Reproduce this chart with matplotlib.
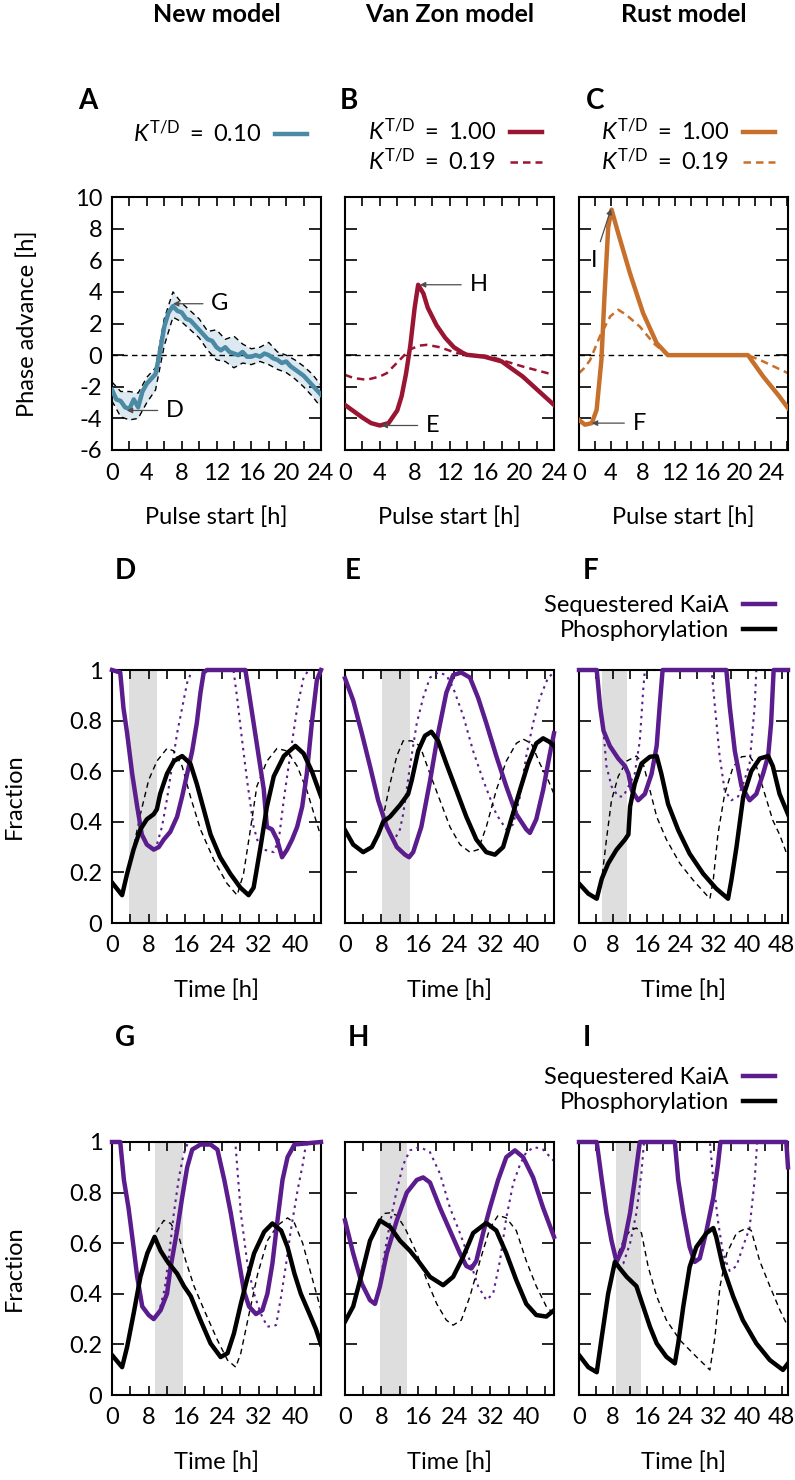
import matplotlib.pyplot as plt

# ---------------- data: phase response curves ----------------
A_x = [0, 0.5, 1, 1.5, 2, 2.5, 3, 3.5, 4, 4.5, 5, 5.5, 6, 6.5, 7, 7.5, 8, 8.5, 9, 9.5,
       10, 10.5, 11, 11.5, 12, 12.5, 13, 13.5, 14, 14.5, 15, 15.5, 16, 16.5, 17, 17.5,
       18, 18.5, 19, 19.5, 20, 20.5, 21, 21.5, 22, 22.5, 23, 23.5, 24]
A_main = [-2.2, -2.8, -2.9, -3.3, -3.4, -2.8, -3.3, -2.3, -1.8, -1.5, -1.2, 0.2, 1.8, 2.7,
          3.1, 2.8, 2.7, 2.3, 2.2, 1.9, 1.6, 1.3, 1.0, 0.9, 0.5, 0.3, 0.5, 0.2, 0.1, 0.0,
          0.2, -0.1, -0.1, 0.0, -0.1, 0.1, 0.0, -0.2, -0.3, -0.5, -0.4, -0.7, -0.9, -1.1,
          -1.3, -1.6, -1.9, -2.2, -2.5]
A_band_x = list(range(0, 25))
A_hi = [-1.7, -2.3, -2.3, -2.4, -1.4, -0.8, 2.3, 4.0, 3.3, 2.8, 2.3, 1.5, 1.6, 1.0, 1.2,
        0.7, 0.4, 0.5, 0.8, 0.2, 0.0, -0.3, -0.7, -1.2, -1.9]
A_lo = [-2.9, -3.9, -4.1, -4.0, -3.0, -2.2, 0.6, 2.4, 2.1, 1.6, 1.1, 0.3, -0.3, -0.4, -0.8,
        -0.5, -0.6, -0.4, -0.6, -0.9, -1.1, -1.5, -2.0, -2.6, -3.3]

B_x = [0, 1, 2, 3, 4, 5, 6, 6.5, 7, 7.5, 8, 8.4, 9, 9.5, 10.5, 11.5, 12.5, 13.5, 14, 16,
       18, 19, 20.4, 22.3, 24]
B_solid = [-3.15, -3.55, -3.95, -4.3, -4.45, -4.3, -3.5, -2.6, -1.2, 0.6, 3.0, 4.45, 3.9,
           3.0, 1.9, 1.1, 0.5, 0.15, 0.02, -0.1, -0.4, -0.8, -1.35, -2.3, -3.15]
B_dx = [0, 1, 2.5, 4, 4.8, 6.3, 7.4, 8.5, 9.4, 10.9, 12.8, 14.3, 16.6, 18.5, 20.4, 22.3, 24]
B_dash = [-1.25, -1.45, -1.56, -1.35, -1.14, -0.3, 0.34, 0.6, 0.65, 0.5, 0.13, 0.02, -0.08,
          -0.4, -0.72, -1.0, -1.25]

C_x = [0, 0.75, 1.6, 2.2, 2.8, 3.2, 3.65, 4.07, 4.9, 6.35, 8.0, 9.7, 11.1, 21.1, 23.0, 25.0, 26.1]
C_solid = [-4.1, -4.4, -4.3, -3.46, -0.3, 3.9, 8.1, 9.2, 7.7, 5.2, 2.66, 0.76, 0.0, 0.0,
           -1.35, -2.6, -3.35]
C_dx = [0, 0.7, 1.4, 2.6, 3.9, 4.9, 5.9, 7.6, 9.3, 10.9, 21.1, 23.0, 26.1]
C_dash = [-1.14, -0.8, -0.3, 1.18, 2.45, 2.87, 2.55, 1.8, 0.76, 0.06, 0.0, -0.4, -1.14]

# ---------------- data: time courses ----------------
# D (new model, early pulse)
D_kaia_t = [0, 1.8, 2.5, 3.3, 4.4, 5.5, 6.5, 7.6, 9.1, 10.2, 11.3, 12.7, 14.2, 15.3, 16.4,
            17.5, 18.5, 19.3, 20.0, 20.7, 29.1, 29.8, 30.9, 32.0, 33.1, 33.8, 34.9, 36.0,
            37.1, 38.2, 39.3, 40.4, 41.5, 42.5, 43.6, 44.7, 45.6]
D_kaia = [1.0, 0.99, 0.85, 0.75, 0.59, 0.46, 0.35, 0.31, 0.29, 0.30, 0.33, 0.36, 0.42, 0.50,
          0.59, 0.68, 0.79, 0.91, 0.99, 1.0, 1.0, 0.92, 0.79, 0.66, 0.53, 0.38, 0.37, 0.33,
          0.26, 0.29, 0.33, 0.38, 0.46, 0.59, 0.79, 0.96, 1.0]
D_kaia0_t = [0, 1.8, 2.5, 3.3, 4.4, 5.5, 6.5, 7.6, 8.8, 9.8, 10.9, 12.0, 13.1, 14.2, 15.3,
             16.4, 17.5, 26.5, 27.3, 28.4, 29.5, 30.9, 32.0, 33.1, 35.3, 36.4, 37.5, 39.0,
             40.4, 41.8, 42.9, 45.6]
D_kaia0 = [1.0, 0.99, 0.85, 0.75, 0.59, 0.46, 0.35, 0.31, 0.29, 0.31, 0.38, 0.49, 0.62, 0.75,
           0.85, 0.95, 1.0, 1.0, 0.89, 0.72, 0.56, 0.38, 0.31, 0.29, 0.28, 0.33, 0.49, 0.68,
           0.85, 0.97, 1.0, 1.0]
D_phos_t = [0, 2.2, 3.3, 4.7, 6.2, 7.6, 9.1, 9.8, 10.5, 12.0, 13.5, 15.3, 17.1, 18.5, 20.0,
            21.5, 23.6, 25.8, 28.0, 29.8, 30.9, 32.4, 33.8, 35.3, 37.5, 40.0, 41.8, 43.6, 45.6]
D_phos = [0.16, 0.11, 0.195, 0.29, 0.37, 0.41, 0.43, 0.45, 0.51, 0.59, 0.64, 0.66, 0.63, 0.55,
          0.45, 0.35, 0.26, 0.195, 0.14, 0.11, 0.14, 0.30, 0.46, 0.58, 0.66, 0.70, 0.67, 0.60,
          0.50]
D_phos0_t = [0, 2.2, 3.3, 4.7, 6.2, 8.0, 9.8, 12.0, 13.5, 15.3, 17.1, 19.3, 22.2, 25.1, 27.3,
             28.7, 30.2, 31.6, 33.8, 36.0, 38.2, 40.4, 42.5, 45.6]
D_phos0 = [0.16, 0.11, 0.195, 0.30, 0.43, 0.565, 0.64, 0.69, 0.68, 0.62, 0.50, 0.37, 0.25,
           0.156, 0.11, 0.195, 0.37, 0.54, 0.64, 0.69, 0.68, 0.62, 0.525, 0.34]

# E (Van Zon model)
E_kaia_t = [0, 1.8, 3.7, 5.5, 7.3, 9.2, 11.4, 13.2, 14.1, 15.0, 16.8, 18.7, 20.5, 22.3, 23.8,
            25.6, 27.5, 29.3, 31.1, 33.3, 35.5, 37.7, 39.9, 40.7, 42.1, 43.6, 45.0, 46.0]
E_kaia = [0.967, 0.88, 0.75, 0.62, 0.485, 0.38, 0.30, 0.27, 0.26, 0.28, 0.38, 0.56, 0.75,
          0.91, 0.98, 0.99, 0.97, 0.89, 0.79, 0.66, 0.54, 0.43, 0.37, 0.356, 0.41, 0.525,
          0.66, 0.75]
E_kaia0_t = [0, 1.8, 3.7, 5.5, 7.3, 9.2, 10.3, 11.2, 12.1, 12.8, 14.3, 15.8, 17.2, 18.7, 20.5,
             22.3, 23.8, 26.0, 28.2, 30.4, 33.3, 35.5, 37.0, 38.5, 39.9, 41.4, 42.9, 44.7, 46.0]
E_kaia0 = [0.967, 0.88, 0.75, 0.62, 0.485, 0.38, 0.34, 0.34, 0.37, 0.43, 0.62, 0.79, 0.89,
           0.97, 0.99, 0.98, 0.93, 0.82, 0.68, 0.565, 0.43, 0.37, 0.39, 0.50, 0.66, 0.79,
           0.89, 0.97, 0.99]
E_phos_t = [0, 1.8, 4.0, 5.9, 7.3, 8.4, 9.9, 12.1, 13.9, 14.7, 16.1, 17.6, 19.0, 20.5, 22.3,
            24.5, 26.7, 28.9, 31.1, 33.0, 34.8, 36.6, 38.5, 40.3, 42.1, 43.6, 45.0, 46.0]
E_phos = [0.367, 0.31, 0.28, 0.30, 0.35, 0.40, 0.42, 0.466, 0.51, 0.565, 0.68, 0.74, 0.756,
          0.72, 0.63, 0.525, 0.42, 0.33, 0.28, 0.27, 0.30, 0.41, 0.525, 0.63, 0.71, 0.73,
          0.716, 0.70]
E_phos0_t = [0, 1.8, 4.0, 5.9, 7.3, 8.4, 9.9, 11.4, 12.8, 14.7, 16.5, 18.7, 20.9, 23.1, 25.3,
             27.5, 29.3, 31.1, 33.3, 35.5, 37.7, 39.2, 41.0, 42.9, 44.7, 46.0]
E_phos0 = [0.367, 0.31, 0.28, 0.30, 0.35, 0.42, 0.55, 0.66, 0.72, 0.72, 0.70, 0.59, 0.485,
           0.38, 0.31, 0.28, 0.29, 0.38, 0.525, 0.64, 0.71, 0.727, 0.71, 0.63, 0.565, 0.51]

# F (Rust model)
F_kaia_t = [0, 4.2, 5.0, 5.8, 7.3, 9.3, 10.9, 11.7, 12.5, 14.0, 15.6, 17.2, 18.4, 19.1, 19.8,
            34.9, 35.7, 36.9, 38.5, 40.4, 42.0, 43.6, 44.8, 45.5, 46.1, 49.5]
F_kaia = [1.0, 1.0, 0.855, 0.76, 0.70, 0.65, 0.62, 0.59, 0.525, 0.485, 0.51, 0.59, 0.70,
          0.855, 1.0, 1.0, 0.855, 0.68, 0.54, 0.485, 0.51, 0.59, 0.66, 0.79, 1.0, 1.0]
F_kaia0_t = [0, 4.2, 5.0, 5.8, 6.5, 7.7, 9.3, 10.5, 11.7, 13.2, 14.4, 15.2, 15.6, 31.4, 32.2,
             33.3, 34.5, 36.1, 37.7, 39.2, 40.4, 41.6, 42.0, 49.5]
F_kaia0 = [1.0, 1.0, 0.855, 0.76, 0.62, 0.54, 0.50, 0.50, 0.54, 0.59, 0.72, 0.92, 1.0, 1.0,
           0.855, 0.66, 0.525, 0.485, 0.50, 0.565, 0.63, 0.855, 1.0, 1.0]
F_phos_t = [0, 2.2, 4.2, 5.4, 6.9, 8.9, 10.9, 11.7, 12.1, 13.2, 14.8, 16.8, 18.4, 19.5, 21.1,
            23.5, 26.2, 29.4, 32.5, 35.3, 36.1, 37.3, 38.9, 40.8, 42.8, 44.8, 45.9, 47.5, 49.5]
F_phos = [0.156, 0.116, 0.096, 0.175, 0.235, 0.29, 0.33, 0.35, 0.46, 0.55, 0.63, 0.657, 0.66,
          0.59, 0.47, 0.367, 0.274, 0.195, 0.136, 0.096, 0.17, 0.30, 0.50, 0.60, 0.65, 0.66,
          0.62, 0.51, 0.43]
F_phos0_t = [0, 2.2, 4.2, 5.4, 6.5, 7.7, 9.3, 11.3, 13.6, 15.2, 16.8, 18.4, 20.7, 23.9, 27.0,
             31.0, 31.8, 32.9, 34.5, 36.5, 38.5, 40.4, 42.0, 44.0, 45.9, 47.5, 49.5]
F_phos0 = [0.156, 0.116, 0.096, 0.175, 0.33, 0.485, 0.58, 0.64, 0.66, 0.63, 0.525, 0.42, 0.33,
           0.235, 0.17, 0.096, 0.17, 0.35, 0.51, 0.617, 0.657, 0.66, 0.62, 0.51, 0.406, 0.35,
           0.26]

# G (new model, late pulse)
G_kaia_t = [0, 1.8, 2.6, 3.6, 4.7, 5.5, 6.6, 8.0, 9.1, 10.6, 12.0, 12.8, 14.2, 15.3, 16.4, 17.5,
            19.3, 21.5, 23.0, 24.5, 25.9, 27.4, 28.8, 29.9, 31.4, 32.8, 33.9, 35.0, 36.1, 37.2,
            38.3, 39.8, 45.6]
G_kaia = [1.0, 1.0, 0.85, 0.74, 0.585, 0.467, 0.35, 0.316, 0.30, 0.335, 0.40, 0.507, 0.65,
          0.78, 0.90, 0.97, 0.99, 0.99, 0.97, 0.85, 0.72, 0.56, 0.41, 0.35, 0.32, 0.335, 0.40,
          0.52, 0.69, 0.85, 0.94, 0.99, 1.0]
G_kaia0_t = [0, 1.8, 2.6, 3.6, 4.7, 5.5, 6.6, 8.0, 9.1, 10.3, 11.5, 12.5, 13.5, 14.6, 15.6,
             16.6, 26.9, 28.1, 29.6, 31.0, 32.5, 33.9, 35.8, 36.9, 38.0, 39.0, 40.5, 41.6, 42.3,
             45.6]
G_kaia0 = [1.0, 1.0, 0.85, 0.74, 0.585, 0.467, 0.35, 0.316, 0.30, 0.33, 0.42, 0.56, 0.72,
           0.86, 0.95, 1.0, 1.0, 0.72, 0.51, 0.40, 0.32, 0.27, 0.276, 0.39, 0.52, 0.65, 0.81,
           0.91, 0.99, 1.0]
G_phos_t = [0, 2.2, 3.3, 4.7, 6.2, 7.7, 9.3, 10.6, 12.0, 14.2, 15.7, 17.2, 19.3, 21.5, 23.7,
            25.2, 26.6, 28.1, 29.6, 31.0, 33.2, 35.0, 36.9, 38.3, 39.8, 41.2, 43.1, 44.5, 45.6]
G_phos = [0.158, 0.11, 0.19, 0.32, 0.467, 0.56, 0.625, 0.57, 0.53, 0.48, 0.43, 0.39, 0.296,
          0.204, 0.15, 0.165, 0.243, 0.36, 0.467, 0.56, 0.645, 0.678, 0.65, 0.585, 0.48, 0.40,
          0.32, 0.26, 0.2]
G_phos0_t = [0, 2.2, 3.3, 4.7, 6.2, 7.7, 9.3, 9.9, 11.3, 12.8, 14.6, 16.1, 17.9, 20.0, 23.0,
             25.2, 27.0, 28.1, 29.9, 31.8, 33.9, 36.1, 38.3, 39.8, 41.6, 43.4, 45.6]
G_phos0 = [0.158, 0.11, 0.19, 0.32, 0.467, 0.56, 0.625, 0.65, 0.69, 0.678, 0.625, 0.53, 0.43,
           0.34, 0.217, 0.138, 0.11, 0.165, 0.32, 0.48, 0.61, 0.67, 0.70, 0.68, 0.60, 0.48,
           0.335]

# H (Van Zon model)
H_kaia_t = [0, 1.8, 3.7, 5.5, 6.6, 7.7, 9.2, 11.4, 13.6, 15.8, 17.2, 18.7, 20.9, 23.1, 25.3,
            26.7, 27.8, 28.9, 30.4, 31.9, 33.7, 35.5, 37.4, 39.2, 41.4, 43.6, 46.0]
H_kaia = [0.69, 0.56, 0.44, 0.375, 0.36, 0.43, 0.56, 0.69, 0.80, 0.85, 0.86, 0.84, 0.74, 0.65,
          0.56, 0.51, 0.50, 0.53, 0.64, 0.74, 0.85, 0.94, 0.967, 0.94, 0.86, 0.74, 0.625]
H_kaia0_t = [0, 1.8, 3.7, 5.5, 6.6, 7.7, 8.6, 9.9, 11.4, 12.8, 14.3, 16.5, 18.7, 20.9, 23.1,
             25.3, 27.5, 29.3, 31.1, 32.6, 34.1, 35.5, 37.0, 38.5, 39.9, 41.7, 43.6, 46.0]
H_kaia0 = [0.69, 0.56, 0.44, 0.375, 0.36, 0.43, 0.55, 0.68, 0.81, 0.91, 0.967, 0.98, 0.96,
           0.875, 0.74, 0.64, 0.53, 0.43, 0.375, 0.40, 0.53, 0.70, 0.835, 0.91, 0.96, 0.98,
           0.97, 0.925]
H_phos_t = [0, 1.8, 3.7, 5.5, 7.7, 9.9, 12.1, 14.3, 16.1, 18.7, 21.6, 23.8, 26.0, 28.2, 31.1,
            33.3, 35.5, 37.7, 39.9, 42.1, 44.3, 46.0]
H_phos = [0.29, 0.35, 0.48, 0.61, 0.69, 0.665, 0.61, 0.57, 0.53, 0.467, 0.434, 0.467, 0.546,
          0.64, 0.68, 0.65, 0.56, 0.454, 0.36, 0.316, 0.31, 0.335]
H_phos0_t = [0, 1.8, 3.7, 5.5, 7.7, 8.4, 9.9, 11.4, 13.2, 15.8, 18.0, 20.2, 22.3, 23.8, 25.6,
             27.5, 29.7, 31.9, 33.7, 35.5, 37.7, 39.9, 42.1, 44.3, 46.0]
H_phos0 = [0.29, 0.35, 0.48, 0.61, 0.69, 0.717, 0.72, 0.71, 0.66, 0.56, 0.454, 0.36, 0.296,
           0.276, 0.296, 0.39, 0.53, 0.66, 0.71, 0.70, 0.65, 0.53, 0.43, 0.35, 0.32]

# I (Rust model)
I_kaia_t = [0, 4.2, 5.4, 6.5, 7.7, 8.9, 10.5, 12.1, 13.2, 14.4, 22.7, 23.5, 24.7, 26.2, 27.4,
            28.6, 30.2, 31.8, 32.9, 33.5, 49.1, 49.5]
I_kaia = [1.0, 1.0, 0.85, 0.72, 0.61, 0.526, 0.585, 0.72, 0.85, 1.0, 1.0, 0.85, 0.72, 0.585,
          0.526, 0.54, 0.65, 0.78, 0.91, 1.0, 1.0, 0.9]
I_kaia0_t = [0, 4.2, 5.4, 6.5, 7.7, 8.9, 9.5, 10.5, 12.1, 13.6, 14.8, 15.4, 31.0, 31.8, 32.9,
             34.1, 35.7, 37.3, 38.8, 40.4, 41.6, 42.2, 49.5]
I_kaia0 = [1.0, 1.0, 0.85, 0.72, 0.61, 0.526, 0.51, 0.52, 0.60, 0.72, 0.88, 1.0, 1.0, 0.85,
           0.69, 0.56, 0.49, 0.51, 0.585, 0.66, 0.85, 1.0, 1.0]
I_phos_t = [0, 2.2, 4.2, 5.4, 6.9, 8.5, 9.7, 11.3, 13.6, 15.2, 16.8, 18.4, 20.7, 22.7, 23.5,
            24.7, 26.2, 27.8, 30.2, 31.8, 32.5, 34.1, 36.5, 38.8, 42.0, 45.2, 48.3, 49.5]
I_phos = [0.158, 0.11, 0.09, 0.23, 0.40, 0.526, 0.50, 0.467, 0.43, 0.35, 0.27, 0.204, 0.151,
          0.125, 0.204, 0.35, 0.506, 0.585, 0.64, 0.66, 0.625, 0.506, 0.39, 0.296, 0.204,
          0.138, 0.099, 0.125]
I_phos0_t = [0, 2.2, 4.2, 5.4, 6.9, 8.5, 10.5, 12.1, 13.6, 14.8, 16.4, 18.4, 20.7, 23.9, 27.8,
             31.0, 32.2, 33.4, 35.0, 37.3, 39.7, 40.8, 42.8, 45.2, 47.6, 49.5]
I_phos0 = [0.158, 0.11, 0.09, 0.23, 0.40, 0.526, 0.61, 0.65, 0.66, 0.64, 0.506, 0.39, 0.296,
           0.217, 0.151, 0.099, 0.23, 0.43, 0.56, 0.64, 0.66, 0.65, 0.53, 0.43, 0.335, 0.27]

# pulse windows (start, end) in h for panels D..I
pulses = {'D': (3.8, 9.8), 'E': (8.2, 14.3), 'F': (5.4, 11.3),
          'G': (9.3, 15.4), 'H': (7.7, 13.7), 'I': (8.7, 14.6)}
tmax = {'D': 45.6, 'E': 46.0, 'F': 49.5, 'G': 45.6, 'H': 46.0, 'I': 49.5}

# ---------------- style ----------------
plt.rcParams['font.family'] = ['Lato', 'DejaVu Sans']
plt.rcParams['mathtext.fontset'] = 'custom'
plt.rcParams['mathtext.rm'] = 'Lato'
plt.rcParams['mathtext.it'] = 'Lato:italic'
plt.rcParams['mathtext.bf'] = 'Lato:bold'
FS = 17

TEAL = '#4b8aa4'
BAND = '#dde9f1'
RED = '#9a1531'
ORANGE = '#c7702b'
PURPLE = '#5b1d8d'
SHADE = '#dedede'

W, H = 795, 1480
fig = plt.figure(figsize=(W / 100, H / 100), dpi=100)

cols = [(112, 321), (345, 554), (579, 788)]
rows = [(197, 450), (670, 923), (1142, 1395)]


def make_ax(c, r):
    x0, x1 = cols[c]
    y0, y1 = rows[r]
    return fig.add_axes([x0 / W, 1 - y1 / H, (x1 - x0) / W, (y1 - y0) / H])


def style(ax, xmax, xstep, xlab, yticks, ylabels):
    ax.set_xlim(0, xmax)
    ax.set_ylim(yticks[0], yticks[-1])
    xt = list(range(0, int(xmax) + 1, xstep))
    ax.set_xticks(xt)
    ax.set_xticklabels([str(t) if t % xlab == 0 else '' for t in xt])
    ax.set_yticks(yticks)
    ax.set_yticklabels(ylabels if ylabels else [''] * len(yticks))
    ax.tick_params(direction='in', top=True, right=True, width=1.2, labelsize=FS,
                   colors='black')
    ax.tick_params(axis='x', length=6.5, pad=9)
    ax.tick_params(axis='y', length=8.6, pad=7)
    for s in ax.spines.values():
        s.set_linewidth(1.5)


def ylab(ax, text, xc):
    ax.set_ylabel(text, fontsize=FS)
    ax.yaxis.set_label_coords((xc - 112) / 209, 0.5)
    ax.yaxis.label.set_va('center')


def xlab(ax, text):
    ax.set_xlabel(text, fontsize=FS)
    ax.xaxis.set_label_coords(0.5, -67 / 253)
    ax.xaxis.label.set_va('center')


def letter(x, y, s):
    fig.text(x / W, 1 - y / H, s, fontsize=20, fontweight='bold', ha='left', va='center')


def arrow(ax, s, xy, xytext, ha='left'):
    ax.annotate(s, xy=xy, xytext=xytext, fontsize=FS, ha=ha, va='center',
                arrowprops=dict(arrowstyle='-|>', color='0.3', lw=0.9, mutation_scale=8,
                                shrinkA=4, shrinkB=0))


def legend(ax, handles, labels, xr, yc):
    ax.legend(handles, labels, loc='center right', bbox_to_anchor=(xr / W, 1 - yc / H),
              bbox_transform=fig.transFigure, frameon=False, markerfirst=False,
              fontsize=FS, handlelength=1.35, handletextpad=0.6, borderpad=0,
              borderaxespad=0, labelspacing=0.15)


# titles
for (x0, x1), t in zip(cols, ['New model', 'Van Zon model', 'Rust model']):
    fig.text((x0 + x1) / 2 / W, 1 - 15 / H, t, fontsize=18, fontweight='bold',
             ha='center', va='center')

ptick = list(range(-6, 11, 2))
plab = [str(v) for v in ptick]
kt_lab1 = r'$K^{\mathrm{T/D}}\ =\ 1.00$'
kt_lab2 = r'$K^{\mathrm{T/D}}\ =\ 0.19$'

# ----- A -----
ax = make_ax(0, 0)
ax.fill_between(A_band_x, A_lo, A_hi, color=BAND, lw=0, zorder=1)
ax.plot(A_band_x, A_hi, color='black', lw=1.0, ls=(0, (4, 3)), zorder=2)
ax.plot(A_band_x, A_lo, color='black', lw=1.0, ls=(0, (4, 3)), zorder=2)
ax.axhline(0, color='black', lw=1.0, ls=(0, (4, 3)), zorder=1)
la, = ax.plot(A_x, A_main, color=TEAL, lw=3.2, zorder=3)
style(ax, 24, 2, 4, ptick, plab)
ylab(ax, 'Phase advance [h]', 27)
xlab(ax, 'Pulse start [h]')
arrow(ax, 'G', (7.0, 3.25), (11.4, 3.25))
arrow(ax, 'D', (1.7, -3.5), (6.2, -3.5))
legend(ax, [la], [r'$K^{\mathrm{T/D}}\ =\ 0.10$'], 307, 133)

# ----- B -----
ax = make_ax(1, 0)
ax.axhline(0, color='black', lw=1.0, ls=(0, (4, 3)), zorder=1)
lb2, = ax.plot(B_dx, B_dash, color=RED, lw=1.8, ls=(0, (3, 2)), zorder=2)
lb1, = ax.plot(B_x, B_solid, color=RED, lw=3.2, zorder=3)
style(ax, 24, 2, 4, ptick, None)
xlab(ax, 'Pulse start [h]')
arrow(ax, 'H', (8.6, 4.45), (14.3, 4.45))
arrow(ax, 'E', (4.2, -4.45), (9.3, -4.45))
legend(ax, [lb1, lb2], [kt_lab1, kt_lab2], 542, 146)

# ----- C -----
ax = make_ax(2, 0)
ax.axhline(0, color='black', lw=1.0, ls=(0, (4, 3)), zorder=1)
lc2, = ax.plot(C_dx, C_dash, color=ORANGE, lw=1.8, ls=(0, (3, 2)), zorder=2)
lc1, = ax.plot(C_x, C_solid, color=ORANGE, lw=3.2, zorder=3)
style(ax, 26.1, 2, 4, ptick, None)
ax.set_xticklabels([str(t) if t % 4 == 0 and t <= 24 else '' for t in range(0, 27, 2)])
xlab(ax, 'Pulse start [h]')
arrow(ax, 'I', (4.0, 9.25), (1.9, 6.0), ha='center')
arrow(ax, 'F', (1.6, -4.3), (6.7, -4.3))
legend(ax, [lc1, lc2], [kt_lab1, kt_lab2], 775, 146)

letter(78, 101, 'A')
letter(340, 101, 'B')
letter(586, 101, 'C')

# ----- time courses -----
ftick = [0, 0.2, 0.4, 0.6, 0.8, 1.0]
flab = ['0', '0.2', '0.4', '0.6', '0.8', '1']
panels = [
    ('D', 0, 1, D_kaia_t, D_kaia, D_kaia0_t, D_kaia0, D_phos_t, D_phos, D_phos0_t, D_phos0),
    ('E', 1, 1, E_kaia_t, E_kaia, E_kaia0_t, E_kaia0, E_phos_t, E_phos, E_phos0_t, E_phos0),
    ('F', 2, 1, F_kaia_t, F_kaia, F_kaia0_t, F_kaia0, F_phos_t, F_phos, F_phos0_t, F_phos0),
    ('G', 0, 2, G_kaia_t, G_kaia, G_kaia0_t, G_kaia0, G_phos_t, G_phos, G_phos0_t, G_phos0),
    ('H', 1, 2, H_kaia_t, H_kaia, H_kaia0_t, H_kaia0, H_phos_t, H_phos, H_phos0_t, H_phos0),
    ('I', 2, 2, I_kaia_t, I_kaia, I_kaia0_t, I_kaia0, I_phos_t, I_phos, I_phos0_t, I_phos0),
]
letter_pos = {'D': (115, 571), 'E': (345, 571), 'F': (583, 571),
              'G': (115, 1038), 'H': (348, 1038), 'I': (583, 1038)}

for name, c, r, kt, k, k0t, k0, pt, p, p0t, p0 in panels:
    ax = make_ax(c, r)
    ax.axvspan(*pulses[name], color=SHADE, lw=0, zorder=0)
    ax.plot(k0t, k0, color=PURPLE, lw=1.5, ls=(0, (1.2, 2.2)), zorder=2, clip_on=False)
    ax.plot(p0t, p0, color='black', lw=1.0, ls=(0, (4, 3)), zorder=2)
    lk, = ax.plot(kt, k, color=PURPLE, lw=3.2, zorder=3, clip_on=False)
    lp, = ax.plot(pt, p, color='black', lw=3.2, zorder=4)
    style(ax, tmax[name], 4, 8, ftick, flab if c == 0 else None)
    xlab(ax, 'Time [h]')
    if c == 0:
        ylab(ax, 'Fraction', 14)
    if c == 2:
        top = rows[r][0]
        legend(ax, [lk, lp], ['Sequestered KaiA', 'Phosphorylation'], 775, top - 52)
    letter(*letter_pos[name], name)

fig.savefig('out.png', dpi=100)
